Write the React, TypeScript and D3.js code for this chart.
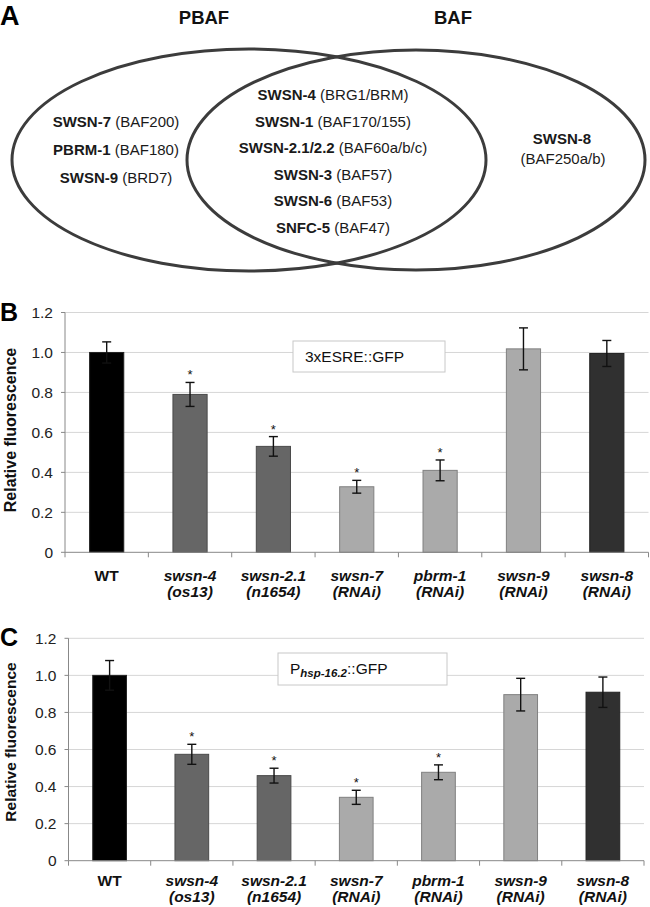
import React, { useEffect, useRef } from 'react';
import * as d3 from 'd3';

// bar categories (genotype + allele / RNAi line)
const genotypes = ['WT', 'swsn-4', 'swsn-2.1', 'swsn-7', 'pbrm-1', 'swsn-9', 'swsn-8'];
const alleles = ['', '(os13)', '(n1654)', '(RNAi)', '(RNAi)', '(RNAi)', '(RNAi)'];
const barColors = ['#000000', '#666666', '#666666', '#aaaaaa', '#aaaaaa', '#aaaaaa', '#303030'];
const barStrokes = ['#222222', '#4a4a4a', '#4a4a4a', '#808080', '#808080', '#808080', '#222222'];

// panel B: 3xESRE::GFP
const esreValues = [1.0, 0.79, 0.53, 0.328, 0.41, 1.018, 0.995];
const esreErrors = [0.053, 0.06, 0.049, 0.032, 0.052, 0.105, 0.065];
const esreStars = [false, true, true, true, true, false, false];

// panel C: Phsp-16.2::GFP
const hspValues = [1.0, 0.574, 0.459, 0.342, 0.477, 0.896, 0.909];
const hspErrors = [0.08, 0.054, 0.04, 0.038, 0.04, 0.088, 0.082];
const hspStars = [false, true, true, true, true, false, false];

const yTicks = [0, 0.2, 0.4, 0.6, 0.8, 1.0, 1.2];

// Venn diagram contents: [worm protein, human homolog]
const pbafOnly = [['SWSN-7', 'BAF200'], ['PBRM-1', 'BAF180'], ['SWSN-9', 'BRD7']];
const shared = [
  ['SWSN-4', 'BRG1/BRM'],
  ['SWSN-1', 'BAF170/155'],
  ['SWSN-2.1/2.2', 'BAF60a/b/c'],
  ['SWSN-3', 'BAF57'],
  ['SWSN-6', 'BAF53'],
  ['SNFC-5', 'BAF47'],
];
const bafOnly = ['SWSN-8', 'BAF250a/b'];

const FONT = "'Liberation Sans', Arial, Helvetica, sans-serif";

interface PanelCfg {
  letter: string;
  values: number[];
  errors: number[];
  stars: boolean[];
  left: number;
  right: number;
  top: number;
  bottom: number;
  labelY: number;
  yLabelY: number;
  yLabelSize: number;
  legend: { x: number; y: number; w: number; h: number };
}

function drawPanel(svg: d3.Selection<SVGSVGElement, unknown, null, undefined>, cfg: PanelCfg, legendText: (t: d3.Selection<SVGTextElement, unknown, null, undefined>) => void) {
  const g = svg.append('g');
  const x = d3.scaleBand().domain(genotypes).range([cfg.left, cfg.right]).paddingInner(0).paddingOuter(0);
  const y = d3.scaleLinear().domain([0, 1.2]).range([cfg.bottom, cfg.top]);
  const bw = x.bandwidth() * 0.41;

  // gridlines
  g.selectAll('.grid')
    .data(yTicks.filter((d) => d > 0))
    .enter()
    .append('line')
    .attr('x1', cfg.left)
    .attr('x2', cfg.right)
    .attr('y1', (d) => y(d))
    .attr('y2', (d) => y(d))
    .attr('stroke', '#d6d6d6')
    .attr('stroke-width', 1);

  // legend box
  g.append('rect')
    .attr('x', cfg.legend.x)
    .attr('y', cfg.legend.y)
    .attr('width', cfg.legend.w)
    .attr('height', cfg.legend.h)
    .attr('fill', '#fff')
    .attr('stroke', '#c8c8c8');
  const lt = g.append('text')
    .attr('x', cfg.legend.x + 12)
    .attr('y', cfg.legend.y + 21)
    .attr('font-family', FONT)
    .attr('font-size', 15.5)
    .attr('fill', '#111');
  legendText(lt as any);

  // y axis
  g.append('line')
    .attr('x1', cfg.left).attr('x2', cfg.left)
    .attr('y1', y(0)).attr('y2', y(1.2))
    .attr('stroke', '#888');
  g.selectAll('.ytick')
    .data(yTicks)
    .enter()
    .append('line')
    .attr('x1', cfg.left - 4).attr('x2', cfg.left)
    .attr('y1', (d) => y(d)).attr('y2', (d) => y(d))
    .attr('stroke', '#888');
  g.selectAll('.ylab')
    .data(yTicks)
    .enter()
    .append('text')
    .attr('x', cfg.left - 12)
    .attr('y', (d) => y(d) + 5.5)
    .attr('text-anchor', 'end')
    .attr('font-family', FONT)
    .attr('font-size', 15.5)
    .attr('fill', '#222')
    .text((d) => (d === 0 ? '0' : d.toFixed(1)));

  // bars
  g.selectAll('.bar')
    .data(cfg.values)
    .enter()
    .append('rect')
    .attr('x', (_, i) => x(genotypes[i])! + x.bandwidth() / 2 - bw / 2)
    .attr('y', (d) => y(d))
    .attr('width', bw)
    .attr('height', (d) => y(0) - y(d))
    .attr('fill', (_, i) => barColors[i])
    .attr('stroke', (_, i) => barStrokes[i])
    .attr('stroke-width', 1);

  // x axis
  g.append('line')
    .attr('x1', cfg.left).attr('x2', cfg.right)
    .attr('y1', y(0)).attr('y2', y(0))
    .attr('stroke', '#888');
  const bounds = genotypes.map((gname) => x(gname)!).concat([cfg.right]);
  g.selectAll('.xtick')
    .data(bounds)
    .enter()
    .append('line')
    .attr('x1', (d) => d).attr('x2', (d) => d)
    .attr('y1', y(0)).attr('y2', y(0) + 5)
    .attr('stroke', '#888');

  // error bars
  const cx = (i: number) => x(genotypes[i])! + x.bandwidth() / 2;
  cfg.values.forEach((v, i) => {
    const e = cfg.errors[i];
    const eg = g.append('g').attr('stroke', '#111').attr('stroke-width', 1.4);
    eg.append('line').attr('x1', cx(i)).attr('x2', cx(i)).attr('y1', y(v - e)).attr('y2', y(v + e));
    eg.append('line').attr('x1', cx(i) - 4.5).attr('x2', cx(i) + 4.5).attr('y1', y(v - e)).attr('y2', y(v - e));
    eg.append('line').attr('x1', cx(i) - 4.5).attr('x2', cx(i) + 4.5).attr('y1', y(v + e)).attr('y2', y(v + e));
    if (cfg.stars[i]) {
      g.append('text')
        .attr('x', cx(i))
        .attr('y', y(v + e) - 3)
        .attr('text-anchor', 'middle')
        .attr('font-family', FONT)
        .attr('font-size', 13)
        .attr('fill', '#111')
        .text('*');
    }
  });

  // category labels
  genotypes.forEach((gname, i) => {
    const t = g.append('text')
      .attr('x', cx(i))
      .attr('text-anchor', 'middle')
      .attr('font-family', FONT)
      .attr('font-size', 15.5)
      .attr('font-weight', 'bold')
      .attr('fill', '#111');
    if (i === 0) {
      t.attr('y', cfg.labelY).text(gname);
    } else {
      t.attr('font-style', 'italic');
      t.append('tspan').attr('x', cx(i)).attr('y', cfg.labelY).text(gname);
      t.append('tspan').attr('x', cx(i)).attr('y', cfg.labelY + 16).text(alleles[i]);
    }
  });

  // y label
  g.append('text')
    .attr('transform', `translate(16,${cfg.yLabelY}) rotate(-90)`)
    .attr('text-anchor', 'middle')
    .attr('font-family', FONT)
    .attr('font-size', cfg.yLabelSize)
    .attr('font-weight', 'bold')
    .attr('fill', '#111')
    .text('Relative fluorescence');

  // panel letter
  g.append('text')
    .attr('x', 0)
    .attr('y', cfg.top + 8)
    .attr('font-family', FONT)
    .attr('font-size', 25)
    .attr('font-weight', 'bold')
    .attr('fill', '#000')
    .text(cfg.letter);
}

const App: React.FC = () => {
  const ref = useRef<SVGSVGElement | null>(null);

  useEffect(() => {
    if (!ref.current) return;
    d3.select(ref.current).selectAll('*').remove();
    const svg = d3.select(ref.current);

    // ---- panel A: Venn diagram ----
    svg.append('text')
      .attr('x', 0).attr('y', 25)
      .attr('font-family', FONT).attr('font-size', 27).attr('font-weight', 'bold')
      .text('A');
    [['PBAF', 204], ['BAF', 453]].forEach(([t, xx]) => {
      svg.append('text')
        .attr('x', xx as number).attr('y', 24)
        .attr('text-anchor', 'middle')
        .attr('font-family', FONT).attr('font-size', 18.5).attr('font-weight', 'bold')
        .attr('fill', '#111')
        .text(t as string);
    });
    svg.append('ellipse')
      .attr('cx', 249).attr('cy', 160).attr('rx', 237).attr('ry', 111)
      .attr('fill', 'none').attr('stroke', '#3c3c3c').attr('stroke-width', 3);
    svg.append('ellipse')
      .attr('cx', 416).attr('cy', 160).attr('rx', 229).attr('ry', 110)
      .attr('fill', 'none').attr('stroke', '#3c3c3c').attr('stroke-width', 3);

    const vennLine = (xx: number, yy: number, bold: string, rest: string) => {
      const t = svg.append('text')
        .attr('x', xx).attr('y', yy)
        .attr('text-anchor', 'middle')
        .attr('font-family', FONT).attr('font-size', 15)
        .attr('fill', '#1a1a1a');
      t.append('tspan').attr('font-weight', 'bold').text(bold);
      t.append('tspan').text(` (${rest})`);
    };
    pbafOnly.forEach(([b, r], i) => vennLine(116, 127 + i * 28, b, r));
    shared.forEach(([b, r], i) => vennLine(333, 100 + i * 26.5, b, r));
    svg.append('text')
      .attr('x', 562).attr('y', 144).attr('text-anchor', 'middle')
      .attr('font-family', FONT).attr('font-size', 15).attr('font-weight', 'bold')
      .attr('fill', '#1a1a1a').text(bafOnly[0]);
    svg.append('text')
      .attr('x', 563).attr('y', 164).attr('text-anchor', 'middle')
      .attr('font-family', FONT).attr('font-size', 15)
      .attr('fill', '#1a1a1a').text(`(${bafOnly[1]})`);

    // ---- panel B ----
    drawPanel(svg, {
      letter: 'B', values: esreValues, errors: esreErrors, stars: esreStars,
      left: 65, right: 648.5, top: 312.5, bottom: 552.3,
      labelY: 581, yLabelY: 430, yLabelSize: 16,
      legend: { x: 293, y: 341, w: 152, h: 31 },
    }, (t) => { t.text('3xESRE::GFP'); });

    // ---- panel C ----
    drawPanel(svg, {
      letter: 'C', values: hspValues, errors: hspErrors, stars: hspStars,
      left: 68.5, right: 644, top: 638.3, bottom: 860.7,
      labelY: 886, yLabelY: 742, yLabelSize: 15.5,
      legend: { x: 278, y: 653, w: 169, h: 32 },
    }, (t) => {
      t.append('tspan').text('P');
      t.append('tspan').attr('font-size', 11.5).attr('font-weight', 'bold').attr('font-style', 'italic').attr('dy', 3).text('hsp-16.2');
      t.append('tspan').attr('dy', -3).text('::GFP');
    });
  }, []);

  return (
    <svg
      ref={ref}
      width={650}
      height={907}
      style={{ position: 'absolute', left: 0, top: 0, background: '#fff' }}
    />
  );
};

export default App;
